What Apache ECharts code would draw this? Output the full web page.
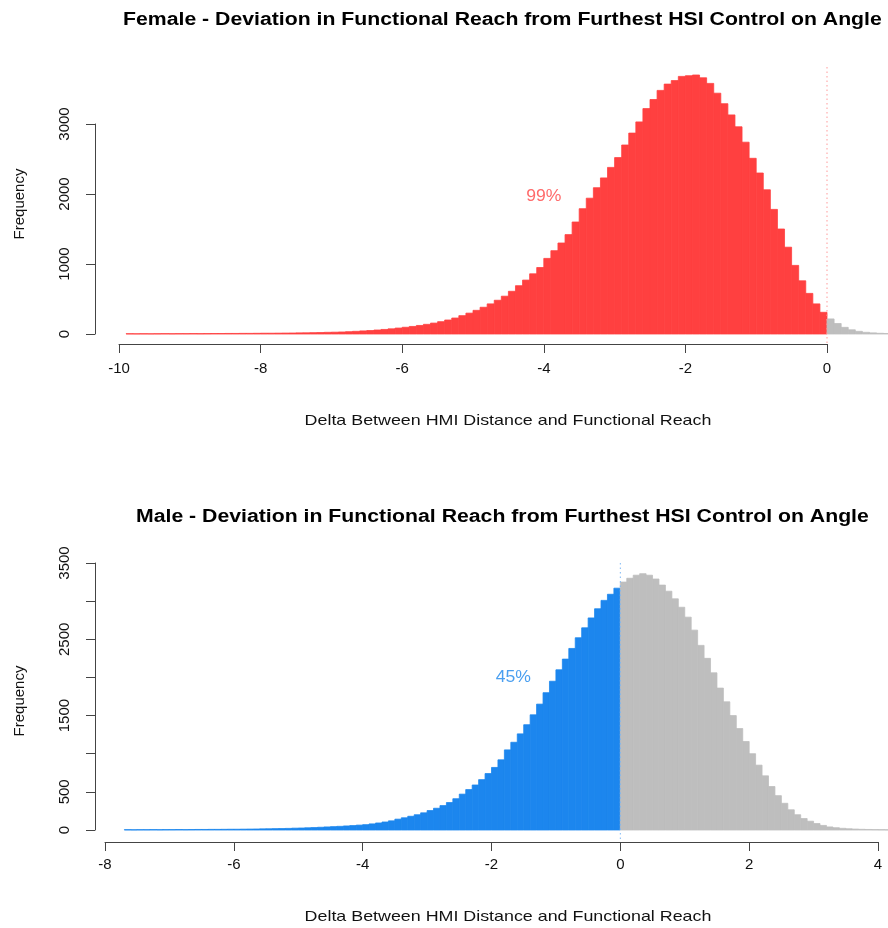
<!DOCTYPE html>
<html>
<head>
<meta charset="utf-8">
<script src="https://cdn.jsdelivr.net/npm/echarts@6/dist/echarts.min.js"></script>
<style>
  html, body { margin: 0; padding: 0; background: #fff; }
  #chart { width: 888px; height: 928px; }
</style>
</head>
<body>
<div id="chart"></div>
<script>
var chart = echarts.init(document.getElementById('chart'));

// histogram bins: left edge of first bin, common width
var binWidth = 0.1;
var femaleStart = -9.9;
var maleStart = -7.7;
var cutoff = 0;

// female counts, bins of 0.1 from -9.9
var femaleCounts = [
  4, 3, 4, 3, 4, 5, 4, 5, 5, 6,
  5, 6, 7, 7, 8, 8, 9, 9, 10, 11,
  11, 12, 13, 14, 16, 17, 19, 21, 24, 26,
  29, 33, 38, 44, 50, 57, 65, 74, 85, 96,
  108, 122, 138, 156, 176, 200, 228, 262, 298, 338,
  382, 430, 482, 540, 610, 690, 770, 860, 950, 1080,
  1190, 1300, 1420, 1600, 1790, 1940, 2090, 2230, 2380, 2520,
  2700, 2870, 3030, 3220, 3350, 3480, 3570, 3620, 3680, 3690,
  3700, 3660, 3580, 3440, 3290, 3130, 2960, 2740, 2510, 2300,
  2060, 1780, 1500, 1240, 980, 760, 580, 430, 310,
  215, 150, 95, 60, 38, 24, 16, 10, 7, 5, 3, 2
];

// male counts, bins of 0.1 from -7.7
var maleCounts = [
  4, 3, 4, 4, 5, 4, 5, 5, 6, 5,
  6, 7, 7, 8, 8, 9, 10, 10, 11, 12,
  13, 15, 16, 18, 19, 21, 24, 26, 29, 32,
  36, 40, 44, 48, 53, 58, 64, 70, 80, 92,
  105, 120, 142, 160, 180, 200, 225, 255, 285, 320,
  360, 410, 470, 530, 590, 660, 740, 820, 920, 1050,
  1150, 1260, 1380, 1510, 1650, 1800, 1950, 2100, 2240, 2380,
  2520, 2650, 2780, 2900, 3010, 3090, 3170,
  3250, 3300, 3340, 3360, 3340, 3290, 3210, 3130, 3030, 2920,
  2790, 2620, 2420, 2250, 2060, 1860, 1680, 1500, 1330, 1160,
  1000, 850, 710, 570, 450, 350, 265, 200, 150, 115,
  85, 60, 40, 30, 22, 16, 12, 9, 7, 5,
  4, 3, 2
];

var maleHiddenY = [1000, 2000, 3000];

var femaleLabel = { text: '99%', at: [-4, 1970] };
var maleLabel = { text: '45%', at: [-1.66, 2000] };

// extent of the dotted cut-off lines (plot region, data units)
var femaleVline = [3814, -143];
var maleVline = [3500, -157];

var femaleColor = '#FF4040';
var maleColor = '#1C86EE';
var restColor = '#BEBEBE';

function toBins(start, counts) {
  return counts.map(function (c, i) {
    return [start + i * binWidth, start + (i + 1) * binWidth, c];
  });
}

function histSeries(idx, start, counts, color) {
  return {
    type: 'custom',
    xAxisIndex: idx,
    yAxisIndex: idx,
    clip: false,
    silent: true,
    data: toBins(start, counts),
    encode: { x: [0, 1], y: 2 },
    renderItem: function (params, api) {
      var x0 = api.value(0), x1 = api.value(1);
      var p0 = api.coord([x0, api.value(2)]);
      var p1 = api.coord([x1, 0]);
      var fill = x1 <= cutoff + 1e-9 ? color : restColor;
      // border in the fill colour, like R's hist with border = col
      return {
        type: 'rect',
        shape: { x: p0[0], y: p0[1], width: p1[0] - p0[0], height: p1[1] - p0[1] },
        style: { fill: fill, stroke: fill, lineWidth: 0.8 }
      };
    }
  };
}

function extraSeries(idx, vline, label, lineColor, labelColor) {
  return {
    type: 'custom',
    xAxisIndex: idx,
    yAxisIndex: idx,
    clip: false,
    silent: true,
    z: 5,
    data: [[cutoff, vline[0], vline[1]]],
    renderItem: function (params, api) {
      var a = api.coord([cutoff, vline[0]]);
      var b = api.coord([cutoff, vline[1]]);
      var t = api.coord(label.at);
      return {
        type: 'group',
        children: [
          {
            type: 'line',
            shape: { x1: a[0], y1: a[1], x2: b[0], y2: b[1] },
            style: { stroke: lineColor, lineWidth: 1, lineDash: [1.5, 3] }
          },
          {
            type: 'text',
            x: t[0], y: t[1],
            scaleX: 1.1,
            style: {
              text: label.text, fill: labelColor,
              font: '16px "Liberation Sans", Arial, sans-serif',
              align: 'center', verticalAlign: 'middle'
            }
          }
        ]
      };
    }
  };
}

var axisLineStyle = { color: '#444', width: 1 };
var labelFont = { color: '#111', fontSize: 15, fontFamily: 'Liberation Sans' };

function xAxisOpt(idx, min, max, offset, margin) {
  return {
    type: 'value', gridIndex: idx, min: min, max: max, interval: 2, offset: offset,
    axisLine: { show: true, onZero: false, lineStyle: axisLineStyle },
    axisTick: { show: true, length: 9, lineStyle: axisLineStyle },
    axisLabel: Object.assign({ margin: margin }, labelFont),
    splitLine: { show: false }
  };
}

function yAxisOpt(idx, max, interval, offset, hidden) {
  return {
    type: 'value', gridIndex: idx, min: 0, max: max, interval: interval, offset: offset,
    axisLine: { show: true, onZero: false, lineStyle: axisLineStyle },
    axisTick: { show: true, length: 9, lineStyle: axisLineStyle },
    axisLabel: Object.assign({
      margin: 23, rotate: 90,
      formatter: function (v) { return hidden.indexOf(v) >= 0 ? '' : String(v); }
    }, labelFont),
    splitLine: { show: false }
  };
}

var titleFont = 'bold 18px "Liberation Sans", Arial, sans-serif';
var nameFont = '15px "Liberation Sans", Arial, sans-serif';

var option = {
  animation: false,
  backgroundColor: '#fff',
  grid: [
    { left: 119, top: 124, width: 708, height: 210 },
    { left: 105, top: 563, width: 773, height: 267 }
  ],
  xAxis: [xAxisOpt(0, -10, 0, 10, 17), xAxisOpt(1, -8, 4, 12, 15)],
  yAxis: [yAxisOpt(0, 3000, 1000, 24, []), yAxisOpt(1, 3500, 500, 10, maleHiddenY)],
  graphic: [
    { type: 'text', x: 123, y: 20, scaleX: 1.18, style: { text: 'Female - Deviation in Functional Reach from Furthest HSI Control on Angle', font: titleFont, fill: '#000', verticalAlign: 'middle' } },
    { type: 'text', x: 136, y: 517, scaleX: 1.18, style: { text: 'Male - Deviation in Functional Reach from Furthest HSI Control on Angle', font: titleFont, fill: '#000', verticalAlign: 'middle' } },
    { type: 'text', x: 508, y: 421, scaleX: 1.19, style: { text: 'Delta Between HMI Distance and Functional Reach', font: nameFont, fill: '#111', align: 'center', verticalAlign: 'middle' } },
    { type: 'text', x: 508, y: 917, scaleX: 1.19, style: { text: 'Delta Between HMI Distance and Functional Reach', font: nameFont, fill: '#111', align: 'center', verticalAlign: 'middle' } },
    { type: 'text', x: 20, y: 204, rotation: Math.PI / 2, style: { text: 'Frequency', font: nameFont, fill: '#111', align: 'center', verticalAlign: 'middle' } },
    { type: 'text', x: 20, y: 701, rotation: Math.PI / 2, style: { text: 'Frequency', font: nameFont, fill: '#111', align: 'center', verticalAlign: 'middle' } }
  ],
  series: [
    histSeries(0, femaleStart, femaleCounts, femaleColor),
    histSeries(1, maleStart, maleCounts, maleColor),
    extraSeries(0, femaleVline, femaleLabel, '#FF9A9A', '#FF6B6B'),
    extraSeries(1, maleVline, maleLabel, '#7DB8F5', '#4A9FF0')
  ]
};

chart.setOption(option);
</script>
</body>
</html>
